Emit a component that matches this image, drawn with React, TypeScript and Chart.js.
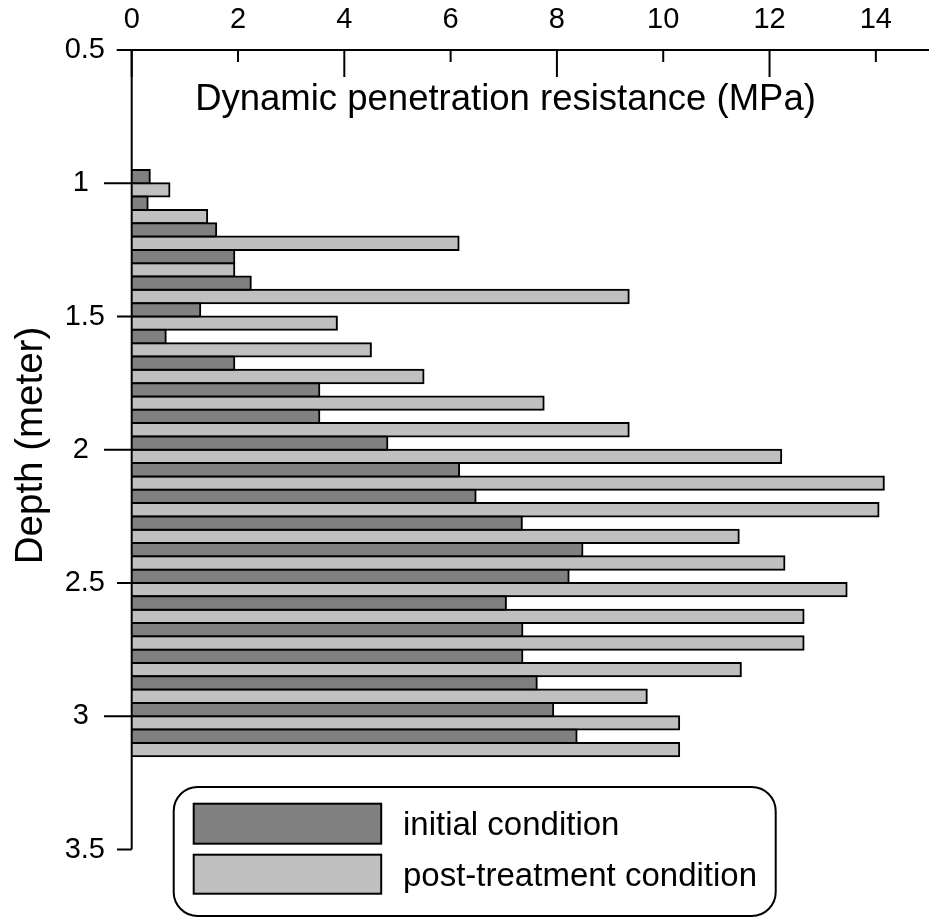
import React, { useEffect, useRef } from "react";
import { Chart, registerables } from "chart.js";

Chart.register(...registerables);

// ---- data ----
const depths = [1.0, 1.1, 1.2, 1.3, 1.4, 1.5, 1.6, 1.7, 1.8, 1.9, 2.0, 2.1, 2.2, 2.3, 2.4, 2.5, 2.6, 2.7, 2.8, 2.9, 3.0, 3.1];
const initialCondition = [0.34, 0.3, 1.59, 1.93, 2.24, 1.29, 0.64, 1.93, 3.53, 3.53, 4.81, 6.16, 6.47, 7.34, 8.48, 8.22, 7.04, 7.35, 7.35, 7.62, 7.93, 8.37];
const postTreatment = [0.71, 1.42, 6.15, 1.93, 9.35, 3.86, 4.5, 5.49, 7.75, 9.35, 12.22, 14.15, 14.05, 11.42, 12.28, 13.45, 12.64, 12.64, 11.46, 9.69, 10.3, 10.3];
const seriesLabels = ["initial condition", "post-treatment condition"];
const xTickValues = [0, 2, 4, 6, 8, 10, 12, 14];
const yTickValues = [0.5, 1, 1.5, 2, 2.5, 3, 3.5];
const xTitle = "Dynamic penetration resistance (MPa)";
const yTitle = "Depth (meter)";

const FONT = "'Liberation Sans', Arial, Helvetica, sans-serif";

function roundRectPath(ctx: CanvasRenderingContext2D, x: number, y: number, w: number, h: number, r: number) {
  ctx.beginPath();
  ctx.moveTo(x + r, y);
  ctx.lineTo(x + w - r, y);
  ctx.arcTo(x + w, y, x + w, y + r, r);
  ctx.lineTo(x + w, y + h - r);
  ctx.arcTo(x + w, y + h, x + w - r, y + h, r);
  ctx.lineTo(x + r, y + h);
  ctx.arcTo(x, y + h, x, y + h - r, r);
  ctx.lineTo(x, y + r);
  ctx.arcTo(x, y, x + r, y, r);
  ctx.closePath();
}

const axesPlugin = {
  id: "customAxes",
  afterDatasetsDraw(chart: any) {
    const { ctx } = chart;
    const x = chart.scales.x;
    const y = chart.scales.y;
    const x0 = x.getPixelForValue(0);
    const yTop = y.getPixelForValue(0.5);
    const yBot = y.getPixelForValue(3.5);
    ctx.save();
    ctx.strokeStyle = "#000";
    ctx.lineWidth = 2;
    ctx.lineCap = "butt";
    // x axis line (top)
    ctx.beginPath();
    ctx.moveTo(x0 - 15, yTop);
    ctx.lineTo(chart.width, yTop);
    ctx.stroke();
    // y axis line
    ctx.beginPath();
    ctx.moveTo(x0, yTop);
    ctx.lineTo(x0, yBot);
    ctx.stroke();
    // x ticks (pointing down into plot)
    xTickValues.forEach((v) => {
      const px = x.getPixelForValue(v);
      const len = v % 4 === 0 ? 27 : 12;
      ctx.beginPath();
      ctx.moveTo(px, yTop);
      ctx.lineTo(px, yTop + len);
      ctx.stroke();
    });
    // y ticks (pointing left)
    yTickValues.forEach((v) => {
      const py = y.getPixelForValue(v);
      const len = Number.isInteger(v) ? 27.7 : 14.7;
      ctx.beginPath();
      ctx.moveTo(x0 - len, py);
      ctx.lineTo(x0, py);
      ctx.stroke();
    });
    ctx.fillStyle = "#000";
    // x axis title inside plot
    ctx.font = `36.5px ${FONT}`;
    ctx.textAlign = "center";
    ctx.textBaseline = "alphabetic";
    ctx.fillText(xTitle, 505.5, 110);
    // y axis title, rotated
    ctx.save();
    ctx.translate(42, 445.5);
    ctx.rotate(-Math.PI / 2);
    ctx.font = `38.5px ${FONT}`;
    ctx.textAlign = "center";
    ctx.textBaseline = "alphabetic";
    ctx.fillText(yTitle, 0, 0);
    ctx.restore();
    ctx.restore();
  },
  afterDraw(chart: any) {
    const { ctx } = chart;
    const ds = chart.data.datasets;
    ctx.save();
    ctx.strokeStyle = "#000";
    ctx.lineWidth = 2;
    roundRectPath(ctx, 173.7, 787, 602, 129, 24);
    ctx.fillStyle = "#fff";
    ctx.fill();
    ctx.stroke();
    const rows = [
      { top: 803.7, h: 40, base: 835 },
      { top: 854.7, h: 39, base: 886 },
    ];
    rows.forEach((r, i) => {
      ctx.fillStyle = ds[i].backgroundColor;
      ctx.fillRect(193.7, r.top, 187.5, r.h);
      ctx.strokeRect(193.7, r.top, 187.5, r.h);
      ctx.fillStyle = "#000";
      ctx.font = `33px ${FONT}`;
      ctx.textAlign = "left";
      ctx.textBaseline = "alphabetic";
      ctx.fillText(ds[i].label, 403, r.base);
    });
    ctx.restore();
  },
};

export default function App() {
  const canvasRef = useRef<HTMLCanvasElement | null>(null);

  useEffect(() => {
    const canvas = canvasRef.current;
    if (!canvas) return;
    const chart = new Chart(canvas, {
      type: "bar",
      data: {
        datasets: [
          {
            label: seriesLabels[0],
            data: depths.map((d, i) => ({ x: initialCondition[i], y: d })),
            backgroundColor: "#808080",
            borderColor: "#000",
            borderWidth: 2,
            borderSkipped: "start",
            inflateAmount: 1,
          },
          {
            label: seriesLabels[1],
            data: depths.map((d, i) => ({ x: postTreatment[i], y: d })),
            backgroundColor: "#c0c0c0",
            borderColor: "#000",
            borderWidth: 2,
            borderSkipped: "start",
            inflateAmount: 1,
          },
        ],
      },
      options: {
        indexAxis: "y",
        animation: false,
        responsive: false,
        devicePixelRatio: 1,
        layout: { padding: { top: 0, left: 0, right: 0, bottom: 69.5 } },
        datasets: { bar: { barPercentage: 1, categoryPercentage: 1 } },
        plugins: { legend: { display: false }, tooltip: { enabled: false } },
        scales: {
          x: {
            type: "linear",
            position: "top",
            min: 0,
            max: 15,
            offset: false,
            grid: { display: false, drawTicks: false },
            border: { display: false },
            ticks: {
              color: "#000",
              font: { family: FONT, size: 29 },
              padding: 12.6,
              autoSkip: false,
              maxRotation: 0,
            },
            afterBuildTicks: (scale: any) => {
              scale.ticks = xTickValues.map((v) => ({ value: v }));
            },
            afterFit: (scale: any) => {
              scale.height = 50;
            },
          },
          y: {
            type: "linear",
            reverse: true,
            min: 0.5,
            max: 3.5,
            offset: false,
            grid: { display: false, drawTicks: false, offset: false },
            border: { display: false },
            ticks: {
              color: "#000",
              font: { family: FONT, size: 29 },
              padding: 26.7,
              autoSkip: false,
              callback: (v: any) => (Number.isInteger(v) ? `${v}  ` : `${v}`),
            },
            title: { display: false },
            afterBuildTicks: (scale: any) => {
              scale.ticks = yTickValues.map((v) => ({ value: v }));
            },
            afterFit: (scale: any) => {
              scale.width = 131.7;
            },
          },
        },
      } as any,
      plugins: [axesPlugin],
    });
    return () => chart.destroy();
  }, []);

  return (
    <div style={{ position: "absolute", left: 0, top: 0, width: 929, height: 919, background: "#fff" }}>
      <canvas ref={canvasRef} width={929} height={919} style={{ display: "block" }} />
    </div>
  );
}
